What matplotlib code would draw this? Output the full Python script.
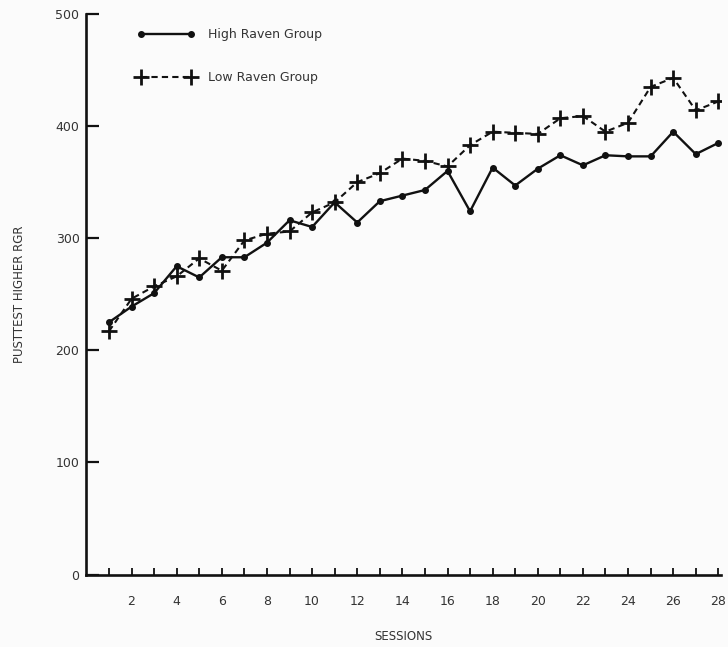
import numpy as np
import matplotlib.pyplot as plt

# Posttest higher RGR per session for both groups
sessions = list(range(1, 29))
highRaven = [225, 239, 251, 275, 265, 283, 283, 296, 316, 310, 332, 314, 333, 338,
             343, 360, 324, 363, 347, 362, 374, 365, 374, 373, 373, 395, 375, 385]
lowRaven = [217, 246, 257, 266, 282, 271, 298, 304, 306, 323, 332, 350, 358, 371,
            369, 364, 383, 395, 394, 393, 407, 409, 395, 403, 435, 443, 414, 422]

yTicks = [0, 100, 200, 300, 400, 500]
xTickLabels = [str(s) if s % 2 == 0 else "" for s in sessions]

ink = "#111111"
textColor = "#333333"

fig = plt.figure(figsize=(7.28, 6.47), dpi=100, facecolor="#fbfbfb")
ax = fig.add_axes([86.4 / 728, 72.5 / 647, 634.2 / 728, 560.5 / 647])
ax.set_facecolor("#fbfbfb")

ax.plot(sessions, highRaven, color=ink, lw=1.7, ls="-", marker="o", ms=4,
        mfc=ink, mec=ink, label="High Raven Group")
ax.plot(sessions, lowRaven, color=ink, lw=1.5, ls=(0, (3, 2)), marker="+", ms=11,
        mew=2, label="Low Raven Group")

ax.set_xlim(0, 28.1)
ax.set_ylim(0, 500)

for side in ["top", "right"]:
    ax.spines[side].set_visible(False)
for side in ["left", "bottom"]:
    ax.spines[side].set_linewidth(1.9)
    ax.spines[side].set_color(ink)

ax.set_yticks(yTicks)
ax.set_yticklabels([str(v) for v in yTicks])
ax.tick_params(axis="y", direction="in", length=9, width=1.6, pad=5,
               labelsize=9, labelcolor=textColor, color=ink)

ax.set_xticks(sessions)
ax.set_xticklabels(xTickLabels)
ax.tick_params(axis="x", direction="in", length=5, width=1.3, pad=15,
               labelsize=9, labelcolor=textColor, color=ink)

ax.set_xlabel("SESSIONS", fontsize=8.5, color=textColor, va="center")
ax.xaxis.set_label_coords(0.5, -0.11)
ax.set_ylabel("PUSTTEST HIGHER RGR", fontsize=8.5, color=textColor, va="center")
ax.yaxis.set_label_coords(-0.105, 0.5)

leg = ax.legend(loc="upper left", bbox_to_anchor=(0.08, 0.975), frameon=False,
                numpoints=2, handlelength=4.6, handletextpad=1.1,
                labelspacing=2.4, borderpad=0, borderaxespad=0, fontsize=9)
for t in leg.get_texts():
    t.set_color(textColor)

plt.savefig("out.png", dpi=100, facecolor=fig.get_facecolor())
